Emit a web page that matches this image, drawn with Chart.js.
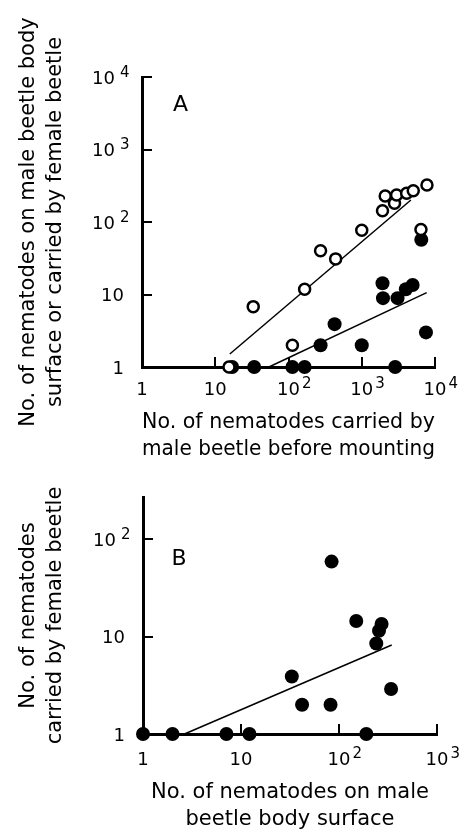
<!DOCTYPE html>
<html>
<head>
<meta charset="utf-8">
<script src="https://cdn.jsdelivr.net/npm/chart.js@4.4.1/dist/chart.umd.min.js"></script>
<style>
  html, body { margin: 0; padding: 0; background: #fff; }
  body { width: 461px; height: 835px; position: relative; overflow: hidden; }
  .panel { position: absolute; left: 0; width: 461px; }
  #panelA { top: 0; height: 470px; }
  #panelB { top: 460px; height: 375px; }
</style>
</head>
<body>
<div class="panel" id="panelA"><canvas id="chartA"></canvas></div>
<div class="panel" id="panelB"><canvas id="chartB"></canvas></div>
<script>
// Panel A: nematodes carried by male before mounting (x)
// open = on male body surface, filled = carried by female
const surfaceX = [15.4, 33, 113, 166, 274, 440, 1000, 1920, 2090, 2800, 2990, 4100, 5050, 7770, 6430];
const surfaceY = [1, 6.8, 2, 11.8, 40, 31, 77, 143, 228, 181, 236, 249, 270, 324, 79];
const femaleX = [17, 34, 113, 166, 2860, 274, 426, 1000, 1920, 1950, 3080, 4000, 4950, 6500, 7530];
const femaleY = [1, 1, 1, 1, 1, 2, 3.9, 2, 14.3, 8.9, 8.9, 11.8, 13.5, 57, 3];
const surfaceFitX = [15.8, 4690];
const surfaceFitY = [1.51, 201];
const femaleFitX = [54, 7700];
const femaleFitY = [1, 10.6];

// Panel B: nematodes on male body surface (x) vs carried by female (y)
const bodyX = [1, 2, 7.1, 12.2, 190, 33, 42, 82, 84, 150, 240, 256, 272, 340];
const bodyY = [1, 1, 1, 1, 1, 3.9, 2, 2, 59, 14.5, 8.5, 11.5, 13.5, 2.9];
const bodyFitX = [2.65, 345];
const bodyFitY = [1, 8.2];

// Axis ticks and their labels (base, superscript)
const ticksAx = [1, 10, 100, 1000, 10000];
const ticksAy = [1, 10, 100, 1000, 10000];
const ticksBx = [1, 10, 100, 1000];
const ticksBy = [1, 10, 100];
const tickLabels = { 1: ['1', ''], 10: ['10', ''], 100: ['10', '2'], 1000: ['10', '3'], 10000: ['10', '4'] };

const FONT = '"DejaVu Sans", sans-serif';
Chart.defaults.font.family = FONT;
Chart.defaults.color = '#000';

const pts = (xs, ys) => xs.map((x, i) => ({ x: x, y: ys[i] }));

// inward tick marks, tick labels with superscript exponents, panel letter
const logLabels = {
    id: 'logLabels',
    afterDraw(chart, args, opts) {
        const ctx = chart.ctx;
        const area = chart.chartArea;
        const xs = chart.scales.x, ys = chart.scales.y;
        ctx.save();

        // tick marks pointing into the plot
        ctx.strokeStyle = '#000';
        ctx.lineWidth = 2;
        ctx.beginPath();
        opts.xTicks.forEach(v => {
            if (v === 1) return;
            const px = Math.round(xs.getPixelForValue(v));
            ctx.moveTo(px, area.bottom);
            ctx.lineTo(px, area.bottom - 10);
        });
        opts.yTicks.forEach(v => {
            if (v === 1) return;
            const py = Math.round(ys.getPixelForValue(v));
            ctx.moveTo(area.left, py);
            ctx.lineTo(area.left + 10, py);
        });
        ctx.stroke();

        ctx.fillStyle = '#000';
        ctx.textBaseline = 'alphabetic';
        opts.xTicks.forEach(v => {
            const [base, exp] = tickLabels[v];
            const px = xs.getPixelForValue(v);
            const py = area.bottom + opts.xDrop;
            ctx.font = '18px ' + FONT;
            ctx.textAlign = 'center';
            ctx.fillText(base, px, py);
            if (exp) {
                const w = ctx.measureText(base).width;
                ctx.font = '15px ' + FONT;
                ctx.textAlign = 'left';
                ctx.fillText(exp, px + w / 2 + 2, py - 7);
            }
        });
        opts.yTicks.forEach(v => {
            const [base, exp] = tickLabels[v];
            const py = ys.getPixelForValue(v) + 6.5;
            ctx.font = '18px ' + FONT;
            ctx.textAlign = 'right';
            if (exp) {
                ctx.fillText(base, area.left - 27, py);
                ctx.font = '15px ' + FONT;
                ctx.textAlign = 'left';
                ctx.fillText(exp, area.left - 22, py - 7);
            } else {
                ctx.fillText(base, area.left - 18, py);
            }
        });
        ctx.font = '22px ' + FONT;
        ctx.textAlign = 'center';
        ctx.textBaseline = 'middle';
        ctx.fillText(opts.letter, area.left + opts.letterDx, area.top + opts.letterDy);
        ctx.restore();
    }
};

function logAxis(position, max, ticks, title, size, titlePad) {
    return {
        type: 'logarithmic',
        position: position,
        min: 1,
        max: max,
        bounds: 'data',
        afterBuildTicks: s => { s.ticks = ticks.map(v => ({ value: v })); },
        afterFit: s => {
            if (position === 'left') s.width = size; else s.height = size;
        },
        grid: { display: false },
        border: { display: true, width: 3, color: '#000' },
        ticks: { display: false },
        title: {
            display: true,
            text: title,
            color: '#000',
            font: { family: FONT, size: 21, lineHeight: '27px' },
            padding: titlePad
        }
    };
}

const openStyle = {
    pointRadius: 5.5, pointBorderWidth: 2.5, borderColor: '#000', backgroundColor: '#fff',
    pointHoverRadius: 5.5, clip: false
};
const filledStyle = {
    pointRadius: 7, pointBorderWidth: 0, borderColor: '#000', backgroundColor: '#000',
    pointHoverRadius: 7, clip: false
};
const fitStyle = {
    showLine: true, pointRadius: 0, borderColor: '#000', borderWidth: 1.5, clip: false
};

new Chart(document.getElementById('chartA'), {
    type: 'scatter',
    data: {
        datasets: [
            Object.assign({ label: 'On male body surface', data: pts(surfaceX, surfaceY) }, openStyle),
            Object.assign({ label: 'Carried by female', data: pts(femaleX, femaleY) }, filledStyle),
            Object.assign({ label: 'Fit surface', data: pts(surfaceFitX, surfaceFitY) }, fitStyle),
            Object.assign({ label: 'Fit female', data: pts(femaleFitX, femaleFitY) }, fitStyle)
        ]
    },
    options: {
        responsive: true,
        maintainAspectRatio: false,
        animation: false,
        events: [],
        layout: { padding: { left: 0, top: 77, right: 26, bottom: 0 } },
        scales: {
            x: logAxis('bottom', 10000, ticksAx,
                ['No. of nematodes carried by', 'male beetle before mounting'], 103, { top: 0, bottom: 7 }),
            y: logAxis('left', 10000, ticksAy,
                ['No. of nematodes on male beetle body', 'surface or carried by female beetle'], 142, { top: 15, bottom: 0 })
        },
        plugins: {
            legend: { display: false },
            tooltip: { enabled: false },
            logLabels: { xTicks: ticksAx, yTicks: ticksAy, xDrop: 28, letter: 'A', letterDx: 38.5, letterDy: 28.5 }
        }
    },
    plugins: [logLabels]
});

new Chart(document.getElementById('chartB'), {
    type: 'scatter',
    data: {
        datasets: [
            Object.assign({ label: 'Carried by female', data: pts(bodyX, bodyY) }, filledStyle),
            Object.assign({ label: 'Fit', data: pts(bodyFitX, bodyFitY) }, fitStyle)
        ]
    },
    options: {
        responsive: true,
        maintainAspectRatio: false,
        animation: false,
        events: [],
        layout: { padding: { left: 0, top: 37, right: 24, bottom: 0 } },
        scales: {
            x: logAxis('bottom', 1000, ticksBx,
                ['No. of nematodes on male', 'beetle body surface'], 101, { top: 0, bottom: 1.5 }),
            y: logAxis('left', 272, ticksBy,
                ['No. of nematodes', 'carried by female beetle'], 143, { top: 15, bottom: 0 })
        },
        plugins: {
            legend: { display: false },
            tooltip: { enabled: false },
            logLabels: { xTicks: ticksBx, yTicks: ticksBy, xDrop: 31, letter: 'B', letterDx: 36, letterDy: 62.5 }
        }
    },
    plugins: [logLabels]
});
</script>
</body>
</html>
